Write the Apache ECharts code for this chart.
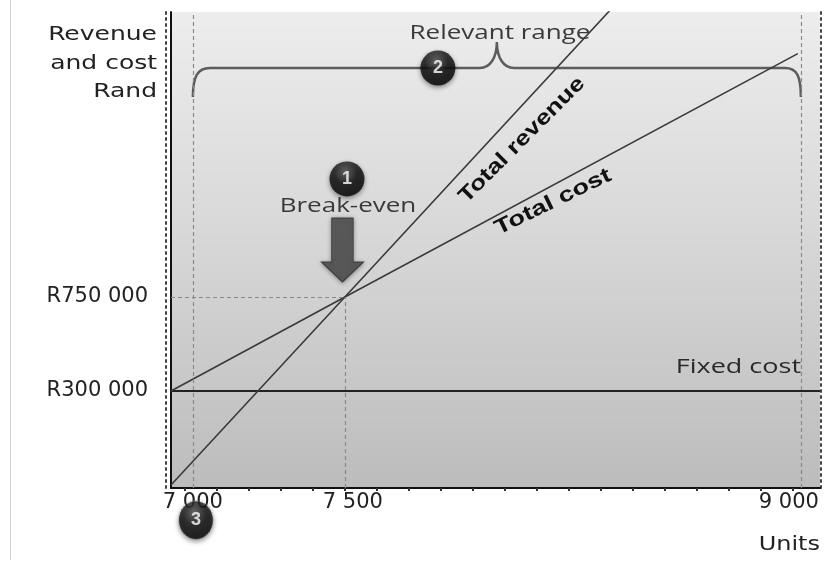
<!DOCTYPE html>
<html><head><meta charset="utf-8">
<script src="https://cdn.jsdelivr.net/npm/echarts@6/dist/echarts.min.js"></script>
<style>html,body{margin:0;padding:0;background:#fff}#c{width:825px;height:573px}</style>
</head><body><div id="c"></div>
<script>
// ---- data ----
const unitsLabels = [7000, 7500, 9000];
const randLabels = [300000, 750000];
const unitsMinorTicks = [6974, 7079, 7184, 7290, 7395, 7500, 7605, 7711, 7816, 7921, 8026, 8132, 8237, 8342, 8447, 8553, 8658, 8763, 8868, 8974];
const fixedCostLine = [[6928, 300000], [9063, 300000]];
const totalCostLine = [[6928, 300000], [7500, 750000], [8990, 1915000]];
const totalRevenueLine = [[6928, -150000], [7500, 750000], [8400, 2166000]];
const breakEven = [7500, 750000];
const relevantRange = [7000, 9000];
const braceLevels = [1846000, 1707000, 1971000]; // bar, curled ends, cusp
const markerNames = ['1', '2', '3'];
const markerX = [7507, 7806, 7010];
const markerY = [1315000, 1846000, -318000];
const arrowPos = [7492, 975000];
const X_MIN = 6928, X_MAX = 9063, Y_MIN = -164000, Y_MAX = 2114000;

const fmt = v => String(v).replace(/\B(?=(\d{3})+(?!\d))/g, ' ');
const chart = echarts.init(document.getElementById('c'), null, {renderer: 'canvas'});
const deg = Math.PI / 180;
const axisFont = {fontFamily: 'DejaVu Sans', fontSize: 21, color: '#222'};

const option = {
  animation: false,
  backgroundColor: '#fff',
  grid: {
    left: 171, right: 5, top: 12, bottom: 85, show: true, borderWidth: 0,
    backgroundColor: new echarts.graphic.LinearGradient(0, 0, 0, 1, [
      {offset: 0, color: '#ededed'}, {offset: 0.5, color: '#d6d6d6'}, {offset: 1, color: '#bcbcbc'}
    ])
  },
  xAxis: [{
    type: 'value', min: X_MIN, max: X_MAX,
    axisLine: {show: true, onZero: false, lineStyle: {color: '#111', width: 2}},
    axisTick: {show: true, customValues: unitsMinorTicks, length: 3, lineStyle: {color: '#333', width: 2}},
    splitLine: {show: false},
    axisLabel: {
      customValues: unitsLabels, margin: 4,
      formatter: v => v === 7500 ? '{b|' + fmt(v) + '}' : (v === 9000 ? '{c|' + fmt(v) + '}' : '{a|' + fmt(v) + '}'),
      rich: {
        a: Object.assign({}, axisFont),
        b: Object.assign({padding: [0, 0, 0, 16]}, axisFont),
        c: Object.assign({padding: [0, 24, 0, 0]}, axisFont)
      }
    }
  }],
  yAxis: [{
    type: 'value', min: Y_MIN, max: Y_MAX, position: 'left',
    axisLine: {show: true, onZero: false, lineStyle: {color: '#111', width: 2}},
    axisTick: {show: false}, splitLine: {show: false},
    axisLabel: Object.assign({customValues: randLabels, margin: 23, padding: [6, 0, 0, 0], formatter: v => 'R' + fmt(v)}, axisFont)
  }, {
    type: 'value', min: Y_MIN, max: Y_MAX, position: 'left', offset: 5,
    axisLine: {show: true, onZero: false, lineStyle: {color: '#444', width: 2, type: [2, 4]}},
    axisTick: {show: false}, axisLabel: {show: false}, splitLine: {show: false}
  }, {
    type: 'value', min: Y_MIN, max: Y_MAX, position: 'right', offset: 1,
    axisLine: {show: true, onZero: false, lineStyle: {color: '#444', width: 2, type: [2, 4]}},
    axisTick: {show: false}, axisLabel: {show: false}, splitLine: {show: false}
  }],
  series: [
    {
      name: 'Fixed cost', type: 'line', data: fixedCostLine, symbol: 'none',
      lineStyle: {color: '#222', width: 2}, z: 3,
      markLine: {
        silent: true, symbol: 'none', label: {show: false},
        lineStyle: {color: '#8a8a8a', type: [4, 3], width: 1.2},
        data: [
          {xAxis: relevantRange[0]}, {xAxis: relevantRange[1]},
          [{coord: [breakEven[0], Y_MIN]}, {coord: breakEven}],
          [{coord: [X_MIN, breakEven[1]]}, {coord: breakEven}]
        ]
      }
    },
    {name: 'Total cost', type: 'line', data: totalCostLine, symbol: 'none', lineStyle: {color: '#3a3a3a', width: 1.6}, z: 3},
    {name: 'Total revenue', type: 'line', data: totalRevenueLine, symbol: 'none', clip: true, lineStyle: {color: '#3a3a3a', width: 1.6}, z: 3},
    {
      name: 'Relevant range', type: 'custom', data: [[relevantRange[0], braceLevels[0]]], z: 3,
      renderItem: (params, api) => {
        const L = api.coord([relevantRange[0], braceLevels[0]]);
        const R = api.coord([relevantRange[1], braceLevels[0]]);
        const C = api.coord([(relevantRange[0] + relevantRange[1]) / 2, braceLevels[2]]);
        const endY = api.coord([relevantRange[0], braceLevels[1]])[1];
        const y = L[1], xl = L[0], xr = R[0], xc = C[0], yc = C[1];
        const d = `M${xl},${endY} C${xl},${y + 8} ${xl + 5},${y} ${xl + 17},${y} L${xc - 17},${y} C${xc - 7},${y} ${xc},${y - 10} ${xc},${yc} C${xc},${y - 10} ${xc + 7},${y} ${xc + 17},${y} L${xr - 16},${y} C${xr - 4},${y} ${xr},${y + 8} ${xr},${endY}`;
        return {type: 'path', shape: {pathData: d}, style: {fill: null, stroke: '#5c5c5c', lineWidth: 2.5}};
      }
    },
    {
      name: 'arrow', type: 'scatter', data: [arrowPos], z: 4,
      symbol: 'path://M10,0L31,0L31,44L41,44L20.5,64L0,44L10,44Z', symbolSize: [42, 64],
      itemStyle: {color: '#4b4b4b', borderColor: '#2a2a2a', borderWidth: 1, shadowBlur: 4, shadowColor: 'rgba(0,0,0,0.45)', shadowOffsetY: 1}
    },
    {
      name: 'markers', type: 'scatter', clip: false, z: 6,
      data: markerNames.map((n, i) => ({
        name: n, value: [markerX[i], markerY[i]], symbolSize: i === 2 ? [34, 38] : 35,
        itemStyle: i === 2 ? {borderColor: '#777', borderWidth: 1.5, borderType: [1, 2]} : {}
      })),
      symbol: 'circle',
      itemStyle: {
        color: new echarts.graphic.RadialGradient(0.45, 0.3, 0.75, [
          {offset: 0, color: '#5a5a5a'}, {offset: 0.45, color: '#111'}, {offset: 1, color: '#000'}
        ]),
        shadowBlur: 5, shadowColor: 'rgba(0,0,0,0.55)', shadowOffsetY: 2
      },
      label: {show: true, position: 'inside', formatter: p => p.name, color: '#fff', fontWeight: 'bold', fontSize: 18, fontFamily: 'Liberation Sans'}
    }
  ],
  graphic: [
    {type: 'line', shape: {x1: 10.5, y1: 0, x2: 10.5, y2: 560}, style: {stroke: '#cfcfcf', lineWidth: 1}, silent: true},
    {type: 'text', x: 157, y: 35, scaleX: 1.25, style: {text: 'Revenue', font: '20px "DejaVu Sans"', fill: '#222', align: 'right', verticalAlign: 'middle'}},
    {type: 'text', x: 157, y: 64, scaleX: 1.25, style: {text: 'and cost', font: '20px "DejaVu Sans"', fill: '#222', align: 'right', verticalAlign: 'middle'}},
    {type: 'text', x: 157, y: 92, scaleX: 1.25, style: {text: 'Rand', font: '20px "DejaVu Sans"', fill: '#222', align: 'right', verticalAlign: 'middle'}},
    {type: 'text', x: 820, y: 545, scaleX: 1.2, style: {text: 'Units', font: '20px "DejaVu Sans"', fill: '#222', align: 'right', verticalAlign: 'middle'}},
    {type: 'text', x: 500, y: 33, scaleX: 1.3, z: 10, style: {text: 'Relevant range', font: '20px "Open Sans"', fill: '#3a3a3a', align: 'center', verticalAlign: 'middle'}},
    {type: 'text', x: 348, y: 206, scaleX: 1.3, z: 10, style: {text: 'Break-even', font: '20px "Open Sans"', fill: '#3a3a3a', align: 'center', verticalAlign: 'middle'}},
    {type: 'text', x: 801, y: 367, scaleX: 1.35, z: 10, style: {text: 'Fixed cost', font: '20px "Open Sans"', fill: '#2a2a2a', align: 'right', verticalAlign: 'middle'}},
    {type: 'text', x: 522, y: 140, rotation: 45 * deg, scaleX: 1.25, z: 10, style: {text: 'Total revenue', font: 'bold 21px "Liberation Sans"', fill: '#111', align: 'center', verticalAlign: 'middle'}},
    {type: 'text', x: 553, y: 202, rotation: 26 * deg, scaleX: 1.3, z: 10, style: {text: 'Total cost', font: 'bold 21px "Liberation Sans"', fill: '#111', align: 'center', verticalAlign: 'middle'}}
  ]
};
chart.setOption(option);
</script>
</body></html>
